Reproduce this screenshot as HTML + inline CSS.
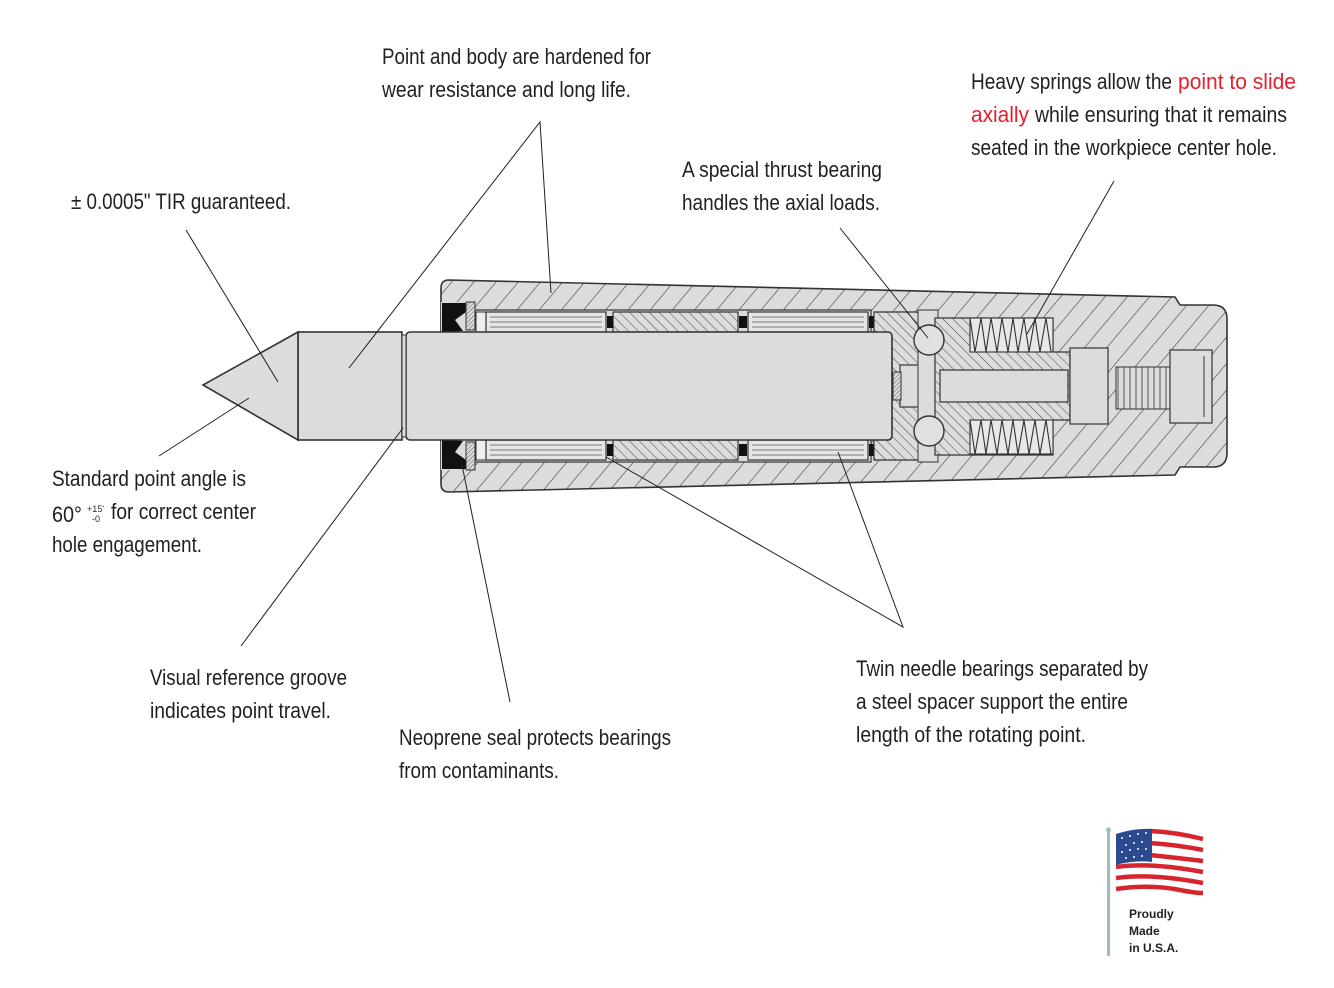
<!DOCTYPE html>
<html><head><meta charset="utf-8"><style>
html,body{margin:0;padding:0;background:#fff;}
svg{display:block;}
text{font-family:"Liberation Sans",sans-serif;fill:#231f20;}
.t{font-size:22px;}
</style></head><body>
<svg width="1334" height="988" viewBox="0 0 1334 988" xmlns="http://www.w3.org/2000/svg">
<defs>
<pattern id="h1" width="17" height="17" patternUnits="userSpaceOnUse" patternTransform="rotate(40)">
<rect width="17" height="17" fill="#dcdcdc"/><line x1="0" y1="0" x2="0" y2="17" stroke="#333" stroke-width="1.1"/></pattern>
<pattern id="h2" width="7" height="7" patternUnits="userSpaceOnUse" patternTransform="rotate(-45)">
<rect width="7" height="7" fill="#dcdcdc"/><line x1="0" y1="0" x2="0" y2="7" stroke="#333" stroke-width="0.9"/></pattern>
<pattern id="h3" width="3" height="3" patternUnits="userSpaceOnUse" patternTransform="rotate(45)">
<rect width="3" height="3" fill="#ddd"/><line x1="0" y1="0" x2="0" y2="3" stroke="#333" stroke-width="0.8"/></pattern>
</defs>

<!-- body -->
<path d="M449,280 L1175,297 L1180,305 L1213,305 Q1227,305 1227,319 L1227,453 Q1227,467 1213,467 L1180,467 L1175,475 L449,492 Q441,492 441,484 L441,288 Q441,280 449,280 Z" fill="url(#h1)" stroke="#333" stroke-width="1.6"/>
<!-- bore -->
<rect x="441" y="310" width="430" height="152" fill="#dcdcdc" stroke="#333" stroke-width="1.2"/>
<rect x="441" y="302" width="26" height="168" fill="#dcdcdc"/>
<!-- seals -->
<path d="M442,303 L466,303 L466,312 L455,320 L463,331 L449,332 L442,332 Z" fill="#111"/>
<path d="M442,440 L449,440 L463,441 L455,452 L466,460 L466,469 L442,469 Z" fill="#111"/>
<rect x="466" y="302" width="9" height="28" fill="url(#h3)" stroke="#333"/>
<rect x="466" y="442" width="9" height="28" fill="url(#h3)" stroke="#333"/>
<rect x="476" y="312" width="10" height="20" fill="#eee" stroke="#333"/>
<rect x="476" y="440" width="10" height="20" fill="#eee" stroke="#333"/>
<!-- bearings -->
<g stroke="#333" stroke-width="1.2">
<rect x="486" y="312" width="120" height="20" fill="#e6e6e6"/>
<rect x="748" y="312" width="120" height="20" fill="#e6e6e6"/>
<rect x="486" y="440" width="120" height="20" fill="#e6e6e6"/>
<rect x="748" y="440" width="120" height="20" fill="#e6e6e6"/>
<rect x="613" y="312" width="125" height="20" fill="url(#h2)"/>
<rect x="613" y="440" width="125" height="20" fill="url(#h2)"/>
</g>
<g stroke="#555" stroke-width="0.8">
<line x1="490" y1="317" x2="602" y2="317"/><line x1="490" y1="322" x2="602" y2="322"/><line x1="490" y1="327" x2="602" y2="327"/>
<line x1="752" y1="317" x2="864" y2="317"/><line x1="752" y1="322" x2="864" y2="322"/><line x1="752" y1="327" x2="864" y2="327"/>
<line x1="490" y1="445" x2="602" y2="445"/><line x1="490" y1="450" x2="602" y2="450"/><line x1="490" y1="455" x2="602" y2="455"/>
<line x1="752" y1="445" x2="864" y2="445"/><line x1="752" y1="450" x2="864" y2="450"/><line x1="752" y1="455" x2="864" y2="455"/>
</g>
<g fill="#111">
<rect x="607" y="316" width="6" height="12"/><rect x="739" y="316" width="8" height="12"/><rect x="869" y="316" width="5" height="12"/>
<rect x="607" y="444" width="6" height="12"/><rect x="739" y="444" width="8" height="12"/><rect x="869" y="444" width="5" height="12"/>
</g>
<!-- thrust housing -->
<path d="M874,312 L920,312 L920,460 L874,460 Z" fill="url(#h2)" stroke="#333" stroke-width="1.2"/>
<rect x="900" y="365" width="30" height="42" fill="#dcdcdc" stroke="#333" stroke-width="1.2"/>
<rect x="893" y="372" width="8" height="28" fill="url(#h3)" stroke="#333"/>
<rect x="918" y="310" width="20" height="152" fill="#dcdcdc" stroke="#333"/>
<!-- plunger -->
<path d="M935,318 L1053,318 L1053,352 L1070,352 L1070,420 L1053,420 L1053,455 L935,455 Z" fill="url(#h2)" stroke="#333" stroke-width="1.2"/>
<rect x="940" y="370" width="128" height="32" fill="#dcdcdc" stroke="#333" stroke-width="1.2"/>
<rect x="1070" y="348" width="38" height="76" fill="#dcdcdc" stroke="#333" stroke-width="1.2"/>
<!-- springs -->
<g fill="#e8e8e8" stroke="#333" stroke-width="1.1">
<rect x="970" y="318" width="83" height="34"/><rect x="970" y="420" width="83" height="34"/>
</g>
<path d="M970,318 L975,352 L981,318 L986,352 L991,318 L997,352 L1002,318 L1008,352 L1013,318 L1018,352 L1024,318 L1029,352 L1035,318 L1040,352 L1046,318 L1051,352 M970,420 L975,454 L981,420 L986,454 L991,420 L997,454 L1002,420 L1008,454 L1013,420 L1018,454 L1024,420 L1029,454 L1035,420 L1040,454 L1046,420 L1051,454" fill="none" stroke="#333" stroke-width="1.1"/>
<!-- balls -->
<circle cx="929" cy="340" r="15" fill="#e0e0e0" stroke="#333" stroke-width="1.4"/>
<circle cx="929" cy="431" r="15" fill="#e0e0e0" stroke="#333" stroke-width="1.4"/>
<!-- thread + set screw -->
<rect x="1116" y="367" width="54" height="42" fill="#dcdcdc" stroke="#333"/>
<path d="M1118,367 L1118,409 M1124,367 L1124,409 M1130,367 L1130,409 M1136,367 L1136,409 M1142,367 L1142,409 M1148,367 L1148,409 M1154,367 L1154,409 M1160,367 L1160,409 M1166,367 L1166,409" stroke="#333" stroke-width="0.8"/>
<rect x="1170" y="350" width="42" height="73" fill="#dcdcdc" stroke="#333" stroke-width="1.2"/>
<line x1="1204" y1="356" x2="1204" y2="417" stroke="#333"/>
<!-- shaft -->
<rect x="406" y="332" width="486" height="108" rx="4" fill="#dcdcdc" stroke="#333" stroke-width="1.6"/>
<!-- point -->
<rect x="298" y="332" width="104" height="108" fill="#dcdcdc" stroke="#333" stroke-width="1.6"/>
<rect x="402" y="335" width="4" height="102" fill="#dcdcdc" stroke="#333" stroke-width="1"/>
<path d="M298,332 L203,385 L298,440 Z" fill="#dcdcdc" stroke="#333" stroke-width="1.6"/>

<!-- leaders -->
<g stroke="#231f20" stroke-width="1" fill="none">
<line x1="186" y1="230" x2="278" y2="382"/>
<line x1="159" y1="456" x2="249" y2="398"/>
<polyline points="349,368 540,122 551,293"/>
<line x1="840" y1="228" x2="928" y2="338"/>
<line x1="1114" y1="181" x2="1027" y2="334"/>
<line x1="241" y1="646" x2="403" y2="428"/>
<line x1="510" y1="702" x2="461" y2="460"/>
<polyline points="606,457 903,627 838,452"/>
</g>

<!-- text -->
<g class="t">
<text x="382" y="64" textLength="269" lengthAdjust="spacingAndGlyphs">Point and body are hardened for</text>
<text x="382" y="97" textLength="249" lengthAdjust="spacingAndGlyphs">wear resistance and long life.</text>
<text x="971" y="89" textLength="201" lengthAdjust="spacingAndGlyphs">Heavy springs allow the</text>
<text x="1178" y="89" textLength="118" lengthAdjust="spacingAndGlyphs" style="fill:#e5202e">point to slide</text>
<text x="971" y="122" textLength="58" lengthAdjust="spacingAndGlyphs" style="fill:#e5202e">axially</text>
<text x="1035" y="122" textLength="252" lengthAdjust="spacingAndGlyphs">while ensuring that it remains</text>
<text x="971" y="155" textLength="306" lengthAdjust="spacingAndGlyphs">seated in the workpiece center hole.</text>
<text x="682" y="177" textLength="200" lengthAdjust="spacingAndGlyphs">A special thrust bearing</text>
<text x="682" y="210" textLength="198" lengthAdjust="spacingAndGlyphs">handles the axial loads.</text>
<text x="71" y="209" textLength="220" lengthAdjust="spacingAndGlyphs">± 0.0005" TIR guaranteed.</text>
<text x="52" y="486" textLength="194" lengthAdjust="spacingAndGlyphs">Standard point angle is</text>
<text x="52" y="522" textLength="30" lengthAdjust="spacingAndGlyphs">60°</text>
<text x="87" y="512" style="font-size:9px">+15'</text>
<text x="92" y="522" style="font-size:9px">-0</text>
<text x="111" y="519" textLength="145" lengthAdjust="spacingAndGlyphs">for correct center</text>
<text x="52" y="552" textLength="150" lengthAdjust="spacingAndGlyphs">hole engagement.</text>
<text x="150" y="685" textLength="197" lengthAdjust="spacingAndGlyphs">Visual reference groove</text>
<text x="150" y="718" textLength="181" lengthAdjust="spacingAndGlyphs">indicates point travel.</text>
<text x="399" y="745" textLength="272" lengthAdjust="spacingAndGlyphs">Neoprene seal protects bearings</text>
<text x="399" y="778" textLength="160" lengthAdjust="spacingAndGlyphs">from contaminants.</text>
<text x="856" y="676" textLength="292" lengthAdjust="spacingAndGlyphs">Twin needle bearings separated by</text>
<text x="856" y="709" textLength="272" lengthAdjust="spacingAndGlyphs">a steel spacer support the entire</text>
<text x="856" y="742" textLength="230" lengthAdjust="spacingAndGlyphs">length of the rotating point.</text>
</g>

<!-- flag -->
<rect x="1107" y="830" width="3" height="126" fill="#9fbcbc"/>
<circle cx="1108.5" cy="830" r="2.5" fill="#9fbcbc"/>
<g>
<path d="M1116,834 Q1150,826 1170,832 Q1190,838 1203,835 L1203,895 Q1185,898 1168,890 Q1145,884 1116,893 Z" fill="#fff"/>
<g stroke="#d7252f" stroke-width="4.5" fill="none">
<path d="M1150,831 Q1175,832 1203,839"/>
<path d="M1150,843 Q1178,845 1203,850"/>
<path d="M1150,855 Q1178,858 1203,861"/>
<path d="M1116,867 Q1150,862 1203,872"/>
<path d="M1116,878 Q1150,873 1203,883"/>
<path d="M1116,889 Q1150,884 1180,890 Q1195,893 1203,893"/>
</g>
<path d="M1116,834 Q1135,828 1152,829 L1152,862 Q1135,860 1116,865 Z" fill="#2b4a8f"/>
<g fill="#fff">
<circle cx="1122" cy="838" r="1"/><circle cx="1130" cy="836" r="1"/><circle cx="1138" cy="834" r="1"/><circle cx="1146" cy="833" r="1"/>
<circle cx="1126" cy="845" r="1"/><circle cx="1134" cy="843" r="1"/><circle cx="1142" cy="842" r="1"/>
<circle cx="1122" cy="852" r="1"/><circle cx="1130" cy="850" r="1"/><circle cx="1138" cy="849" r="1"/><circle cx="1146" cy="849" r="1"/>
<circle cx="1126" cy="858" r="1"/><circle cx="1134" cy="857" r="1"/><circle cx="1142" cy="856" r="1"/>
</g>
</g>
<g style="font-size:12px;font-weight:bold">
<text x="1129" y="918">Proudly</text>
<text x="1129" y="935">Made</text>
<text x="1129" y="952">in U.S.A.</text>
</g>
</svg>
</body></html>
